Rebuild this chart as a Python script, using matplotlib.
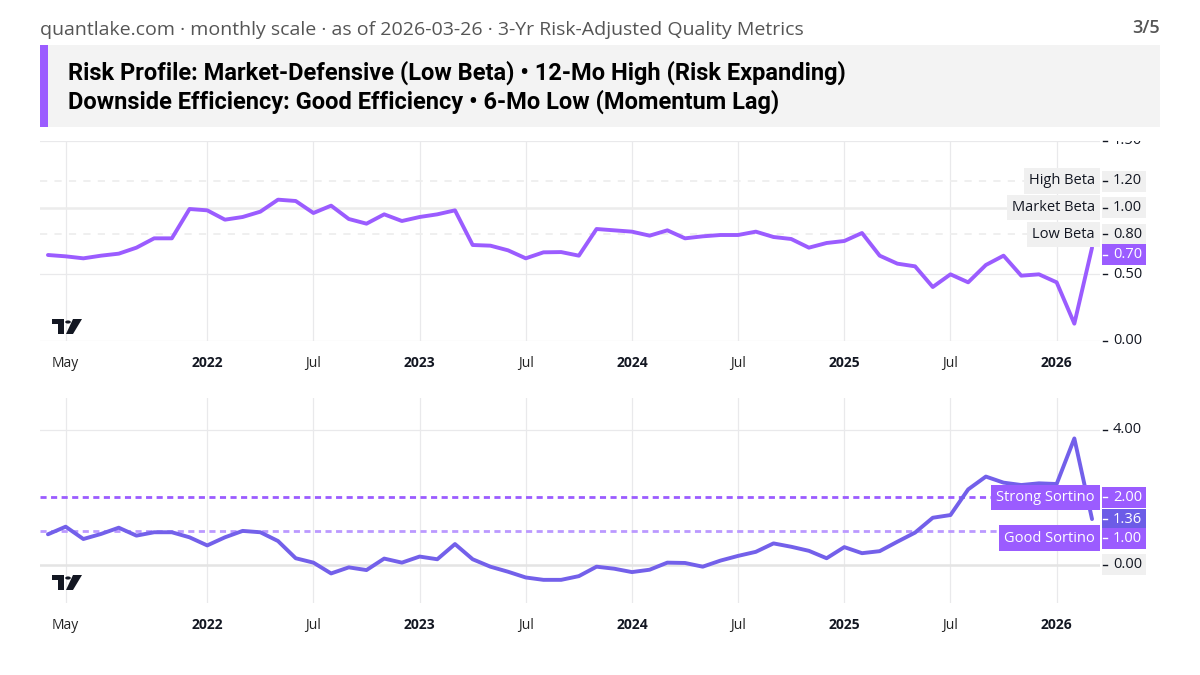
import matplotlib
matplotlib.use("Agg")
import matplotlib.pyplot as plt
import pandas as pd
from matplotlib.patches import Rectangle, Polygon, Circle

W, H = 1200, 675

# monthly bars, Apr 2021 .. Mar 2026
months = pd.date_range("2021-04-01", periods=60, freq="MS")

beta = [0.645, 0.635, 0.62, 0.64, 0.655, 0.70, 0.77, 0.77, 0.99, 0.98,
        0.91, 0.93, 0.97, 1.06, 1.05, 0.96, 1.015, 0.915, 0.88, 0.95,
        0.90, 0.93, 0.95, 0.98, 0.72, 0.715, 0.68, 0.62, 0.665, 0.667,
        0.64, 0.84, 0.83, 0.82, 0.79, 0.83, 0.77, 0.785, 0.795, 0.795,
        0.82, 0.78, 0.765, 0.70, 0.735, 0.75, 0.81, 0.64, 0.58, 0.56,
        0.405, 0.50, 0.44, 0.57, 0.64, 0.49, 0.50, 0.44, 0.13, 0.70]

sortino = [0.91, 1.135, 0.77, 0.92, 1.105, 0.87, 0.97, 0.97, 0.82, 0.58,
           0.82, 1.01, 0.97, 0.71, 0.20, 0.07, -0.25, -0.07, -0.15, 0.19,
           0.07, 0.25, 0.17, 0.62, 0.17, -0.05, -0.20, -0.37, -0.44, -0.44,
           -0.33, -0.05, -0.11, -0.21, -0.14, 0.07, 0.06, -0.05, 0.13, 0.27,
           0.39, 0.64, 0.54, 0.42, 0.20, 0.53, 0.35, 0.41, 0.69, 0.96,
           1.40, 1.48, 2.24, 2.62, 2.44, 2.37, 2.42, 2.40, 3.75, 1.36]

beta_levels = [1.20, 1.00, 0.80]
beta_level_names = ["High Beta", "Market Beta", "Low Beta"]
sortino_levels = [2.00, 1.00]
sortino_level_names = ["Strong Sortino", "Good Sortino"]

PURPLE = "#9b5cff"
PURPLE_LIGHT = "#bb99ff"
VIOLET = "#7360ea"
VIOLET_BOX = "#6c5ce7"
GRID = "#e9e9eb"
TXT = "#131722"
GRAYBOX = "#f0f0f0"

plt.rcParams["font.family"] = ["Open Sans", "DejaVu Sans"]

fig = plt.figure(figsize=(12, 6.75), dpi=100)
fig.patch.set_facecolor("white")


def frac(x0, y0, x1, y1):
    # pixel box (top-left origin) -> figure fraction rect
    return [x0 / W, 1 - y1 / H, (x1 - x0) / W, (y1 - y0) / H]


def prect(x0, y0, x1, y1, color, z=5):
    fig.patches.append(Rectangle((x0 / W, 1 - y1 / H), (x1 - x0) / W, (y1 - y0) / H,
                                 transform=fig.transFigure, facecolor=color,
                                 edgecolor="none", zorder=z))


# header
fig.text(40 / W, 1 - 30 / H, "quantlake.com · monthly scale · as of 2026-03-26 · 3-Yr Risk-Adjusted Quality Metrics",
         fontsize=14, color="#555555", va="center", ha="left")
fig.text(1160 / W, 1 - 28 / H, "3/5", fontsize=13, color="#555555", va="center", ha="right",
         fontweight="semibold")
prect(40, 45, 1160, 127, "#f3f3f3", z=0)
prect(40, 45, 48, 127, PURPLE, z=1)
fig.text(68 / W, 1 - 73 / H, "Risk Profile: Market-Defensive (Low Beta) • 12-Mo High (Risk Expanding)",
         fontsize=17, fontweight="bold", family=["Roboto", "DejaVu Sans"], color="black", va="center")
fig.text(68 / W, 1 - 102 / H, "Downside Efficiency: Good Efficiency • 6-Mo Low (Momentum Lag)",
         fontsize=17, fontweight="bold", family=["Roboto", "DejaVu Sans"], color="black", va="center")

x = list(range(len(months)))
xlim = (-0.45, len(months) - 0.55)

tick_pos = [1] + [i for i, m in enumerate(months) if m.month in (1, 7) and m.year >= 2022]
tick_lab = [str(months[i].year) if months[i].month == 1 else months[i].strftime("%b") for i in tick_pos]


def setup(ax, ylim):
    ax.set_xlim(*xlim)
    ax.set_ylim(*ylim)
    for s in ax.spines.values():
        s.set_visible(False)
    ax.set_yticks([])
    ax.set_xticks(tick_pos)
    ax.set_xticklabels(tick_lab, fontsize=10, color="#222222")
    for t, lab in zip(ax.get_xticklabels(), tick_lab):
        if lab.isdigit():
            t.set_fontweight("bold")
            t.set_color(TXT)
    ax.tick_params(axis="x", length=0, pad=11)
    for p in tick_pos:
        ax.axvline(p, color=GRID, lw=0.9, zorder=0)


def logo(x0, y0):
    # tradingview watermark, pixel coords (top-left)
    c = "#131722"
    pts = [[(x0, y0), (x0 + 12, y0), (x0 + 12, y0 + 15), (x0 + 6, y0 + 15), (x0 + 6, y0 + 5), (x0, y0 + 5)]]
    pts.append([(x0 + 21, y0), (x0 + 30, y0), (x0 + 21, y0 + 15), (x0 + 14, y0 + 15)])
    for poly in pts:
        fig.patches.append(Polygon([(a / W, 1 - b / H) for a, b in poly], closed=True,
                                   transform=fig.transFigure, facecolor=c, edgecolor="none", zorder=6))
    fig.patches.append(Circle(((x0 + 16) / W, 1 - (y0 + 3) / H), 2.8 / W,
                              transform=fig.transFigure, facecolor=c, edgecolor="none", zorder=6))


def ypix(ax, v):
    return H - ax.transData.transform((0, v))[1]


def value_tag(ax, v, text, fg, bg, dy=0, tick=None):
    yc = ypix(ax, v) + dy
    if bg is not None:
        prect(1102, yc - 10.5, 1146, yc + 10.5, bg, z=7)
    fig.lines.append(plt.Line2D([1103 / W, 1107 / W], [1 - yc / H] * 2, transform=fig.transFigure,
                                color=tick or fg, lw=1, zorder=8))
    t = fig.text(1113 / W, 1 - yc / H, text, fontsize=10.5, color=fg, va="center", ha="left", zorder=9)
    return t


def name_tag(ax, v, text, fg, bg, dy=0):
    yc = ypix(ax, v) + dy
    fig.text(1095 / W, 1 - yc / H, text, fontsize=10.5, color=fg, va="center", ha="right", zorder=9,
             bbox=dict(boxstyle="square,pad=0.36", facecolor=bg, edgecolor="none"))


# ---- top pane: beta ----
ax1 = fig.add_axes(frac(40, 141, 1100, 341))
setup(ax1, (0, 1.5))
for g in (0.0, 0.5, 1.5):
    ax1.axhline(g, color=GRID, lw=0.9, zorder=0)
ax1.axhline(1.0, color="#ececec", lw=1.8, zorder=0)
for g in (1.2, 0.8):
    ax1.axhline(g, color="#eeeeee", lw=1.3, ls=(0, (4, 4)), zorder=0)
ax1.plot(x, beta, color=PURPLE, lw=2.8, solid_joinstyle="round", solid_capstyle="round", zorder=3)
logo(52, 319)

# ---- bottom pane: sortino ----
ax2 = fig.add_axes(frac(40, 398, 1100, 603))
setup(ax2, (-1.126, 4.948))
ax2.axhline(4.0, color=GRID, lw=0.9, zorder=0)
ax2.axhline(0.0, color="#e4e4e4", lw=1.8, zorder=0)
ax2.axhline(sortino_levels[0], color=PURPLE, lw=2, ls=(0, (2.2, 1.6)), zorder=1)
ax2.axhline(sortino_levels[1], color=PURPLE_LIGHT, lw=2, ls=(0, (2.2, 1.6)), zorder=1)
ax2.plot(x, sortino, color=VIOLET, lw=2.8, solid_joinstyle="round", solid_capstyle="round", zorder=3)
logo(52, 575)

# right price scales (top)
clip_top = fig.add_axes(frac(1100, 141, 1160, 341))
clip_top.axis("off")
t = value_tag(ax1, 1.5, "1.50", TXT, None, tick=TXT)
t.set_clip_on(True)
t.set_clip_box(clip_top.bbox)
value_tag(ax1, 0.5, "0.50", TXT, None, tick=TXT)
value_tag(ax1, 0.0, "0.00", TXT, None, tick=TXT)
for v, nm in zip(beta_levels, beta_level_names):
    name_tag(ax1, v, nm, TXT, GRAYBOX)
    value_tag(ax1, v, f"{v:.2f}", TXT, GRAYBOX, tick=TXT)
value_tag(ax1, beta[-1], f"{beta[-1]:.2f}", "white", PURPLE, dy=7, tick="white")

# right price scales (bottom)
value_tag(ax2, 4.0, "4.00", TXT, None, tick=TXT)
value_tag(ax2, 0.0, "0.00", TXT, GRAYBOX, tick=TXT)
name_tag(ax2, sortino_levels[0], sortino_level_names[0], "white", PURPLE)
value_tag(ax2, sortino_levels[0], f"{sortino_levels[0]:.2f}", "white", PURPLE, tick="white")
value_tag(ax2, sortino[-1], f"{sortino[-1]:.2f}", "white", VIOLET_BOX, tick="white")
name_tag(ax2, sortino_levels[1], sortino_level_names[1], "white", PURPLE, dy=7)
value_tag(ax2, sortino_levels[1], f"{sortino_levels[1]:.2f}", "white", PURPLE, dy=7, tick="white")

fig.savefig("out.png", dpi=100, facecolor="white")
